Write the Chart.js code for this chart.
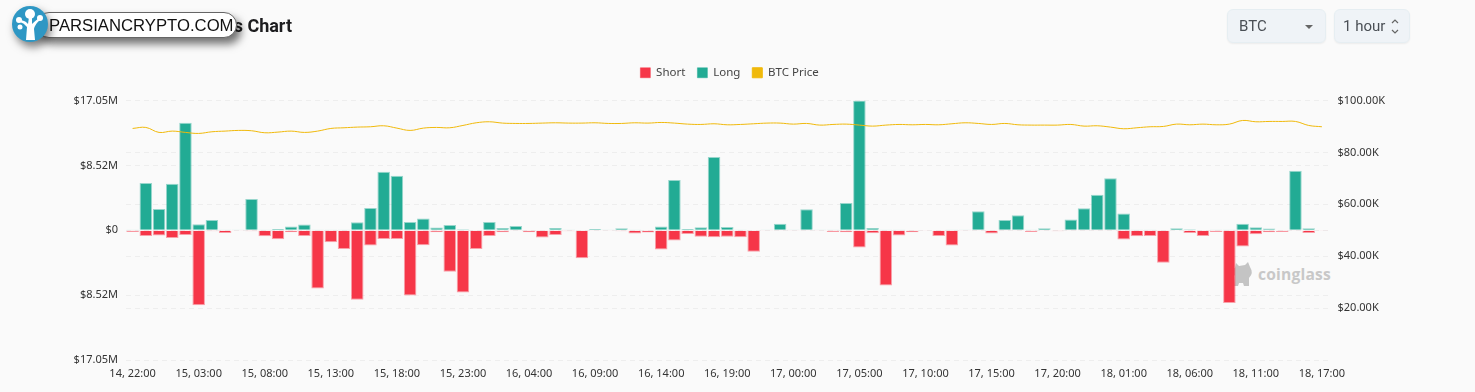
<!DOCTYPE html>
<html>
<head>
<meta charset="utf-8">
<title>Liquidations Chart</title>
<script src="https://cdn.jsdelivr.net/npm/chart.js@4/dist/chart.umd.min.js"></script>
<style>
    html, body { margin: 0; padding: 0; background: #fafafa; width: 1475px; height: 392px; overflow: hidden; }
    #liqChart { position: absolute; left: 0; top: 0; }
    .title { position: absolute; right: 1183px; top: 15px; font: 700 18px Roboto, sans-serif; color: #1d1d1f; white-space: nowrap; }
    .logo-pill { position: absolute; left: 36px; top: 12px; width: 199px; height: 24px; background: #fff; border: 1px solid #666; border-radius: 13px; box-shadow: 4px 6px 8px rgba(0,0,0,.55); }
    .logo-text { position: absolute; left: 49px; top: 16px; font: 400 16.7px "Liberation Sans", sans-serif; color: #111; white-space: nowrap; }
    .logo-icon { position: absolute; left: 12px; top: 5px; filter: drop-shadow(3px 5px 4px rgba(0,0,0,.5)); }
    .select { position: absolute; top: 9px; height: 34px; box-sizing: border-box; background: #eff3f7; border: 1px solid #e6eef2; border-radius: 6px; font: 400 15px/32px Roboto, sans-serif; color: #4a4f55; box-shadow: 0 1px 2px rgba(0,0,0,.06); }
    .select span { position: absolute; left: 11px; }
    .select svg { position: absolute; }
    .watermark { position: absolute; left: 1258px; top: 263px; font: 700 15.6px "Open Sans", sans-serif; color: #c8c8c8; letter-spacing: .2px; }
    .watermark-icon { position: absolute; left: 1230px; top: 261px; }
</style>
</head>
<body>
<svg class="watermark-icon" width="24" height="26" viewBox="0 0 24 26">
    <path d="M1 8 L5 7 L6 2 L9 5 L15 4 L18 1 L20 6 Q24 12 19 17 L19 25 L14 25 L13 22 L9 22 L8 25 L4 25 L5 15 Q2 12 1 8 Z" fill="#c4c4c4"/>
</svg>
<div class="watermark">coinglass</div>

<canvas id="liqChart" width="1475" height="392"></canvas>

<div class="title">Total Liquidations Chart</div>
<div class="logo-pill"></div>
<div class="logo-text">PARSIANCRYPTO.COM</div>
<svg class="logo-icon" width="36" height="38" viewBox="0 0 36 38">
    <circle cx="18" cy="19" r="18" fill="#2e97c4"/>
    <path d="M14 35 L15 22 Q12 18 8 17 L9 15 Q14 16 16 19 L17 12 L20 12 L20 19 Q23 16 27 13 L28 15 Q23 19 22 24 L23 35 Z" fill="#fff"/>
    <circle cx="18" cy="9" r="5" fill="#fff"/>
    <circle cx="7" cy="15" r="3" fill="#fff"/>
    <circle cx="28" cy="13" r="3" fill="#fff"/>
    <circle cx="8" cy="22" r="2.5" fill="#fff"/>
</svg>

<div class="select" style="left:1227px;width:99px"><span>BTC</span>
    <svg style="left:76px;top:14px" width="10" height="6"><path d="M1 1 L9 1 L5 5 Z" fill="#666"/></svg>
</div>
<div class="select" style="left:1334px;width:76px"><span style="left:8px">1 hour</span>
    <svg style="left:55px;top:8px" width="10" height="17" fill="none" stroke="#666" stroke-width="1.2"><path d="M2 5 L5 2 L8 5 M2 12 L5 15 L8 12"/></svg>
</div>

<script>
const categories = [
    '14, 22:00', '14, 23:00', '15, 00:00', '15, 01:00', '15, 02:00', '15, 03:00', '15, 04:00', '15, 05:00', '15, 06:00', '15, 07:00',
    '15, 08:00', '15, 09:00', '15, 10:00', '15, 11:00', '15, 12:00', '15, 13:00', '15, 14:00', '15, 15:00', '15, 16:00', '15, 17:00',
    '15, 18:00', '15, 19:00', '15, 20:00', '15, 21:00', '15, 22:00', '15, 23:00', '16, 00:00', '16, 01:00', '16, 02:00', '16, 03:00',
    '16, 04:00', '16, 05:00', '16, 06:00', '16, 07:00', '16, 08:00', '16, 09:00', '16, 10:00', '16, 11:00', '16, 12:00', '16, 13:00',
    '16, 14:00', '16, 15:00', '16, 16:00', '16, 17:00', '16, 18:00', '16, 19:00', '16, 20:00', '16, 21:00', '16, 22:00', '16, 23:00',
    '17, 00:00', '17, 01:00', '17, 02:00', '17, 03:00', '17, 04:00', '17, 05:00', '17, 06:00', '17, 07:00', '17, 08:00', '17, 09:00',
    '17, 10:00', '17, 11:00', '17, 12:00', '17, 13:00', '17, 14:00', '17, 15:00', '17, 16:00', '17, 17:00', '17, 18:00', '17, 19:00',
    '17, 20:00', '17, 21:00', '17, 22:00', '17, 23:00', '18, 00:00', '18, 01:00', '18, 02:00', '18, 03:00', '18, 04:00', '18, 05:00',
    '18, 06:00', '18, 07:00', '18, 08:00', '18, 09:00', '18, 10:00', '18, 11:00', '18, 12:00', '18, 13:00', '18, 14:00', '18, 15:00',
    '18, 17:00'
];

// $M
const shortValues = [
    -0.22, -0.74, -0.70, -1.01, -0.61, -9.84, -0.13, -0.35, -0.04, -0.13,
    -0.79, -1.18, -0.26, -0.74, -7.65, -1.57, -2.45, -9.14, -2.01, -1.14,
    -1.14, -8.57, -1.97, -0.26, -5.46, -8.17, -2.45, -0.74, -0.26, -0.09,
    -0.26, -0.96, -0.61, -0.13, -3.67, -0.09, -0.04, -0.13, -0.44, -0.31,
    -2.54, -1.36, -0.48, -0.87, -0.92, -0.87, -0.92, -2.84, -0.04, -0.04,
    -0.04, -0.04, -0.09, -0.22, -0.26, -2.27, -0.39, -7.26, -0.70, -0.26,
    -0.09, -0.74, -2.01, -0.04, -0.04, -0.44, -0.04, -0.04, -0.22, -0.04,
    -0.13, -0.04, -0.04, -0.04, -0.04, -1.22, -0.79, -0.74, -4.28, 0,
    -0.35, -0.74, -0.22, -9.57, -2.14, -0.52, -0.26, -0.22, -0.04, -0.35,
    -0.09
];
const longValues = [
    0.09, 6.21, 2.80, 6.12, 14.12, 0.79, 1.36, 0.09, 0.04, 4.11,
    0.04, 0.17, 0.48, 0.74, 0.04, 0.04, 0.09, 1.05, 2.93, 7.69,
    7.17, 1.09, 1.53, 0.35, 0.70, 0.13, 0, 1.09, 0.31, 0.57,
    0, 0, 0.31, 0.04, 0, 0.17, 0.04, 0.26, 0.04, 0,
    0.48, 6.60, 0.17, 0.39, 9.62, 0.44, 0.04, 0, 0.09, 0.87,
    0.04, 2.75, 0.04, 0.09, 3.58, 17.05, 0.31, 0.04, 0.04, 0,
    0, 0, 0.04, 0.09, 2.49, 0, 1.36, 1.97, 0.09, 0.26,
    0, 1.40, 2.89, 4.68, 6.82, 2.19, 0.04, 0.04, 0, 0.26,
    0.13, 0, 0.04, 0.04, 0.87, 0.39, 0.22, 0, 7.83, 0.26,
    0
];
// $K
const priceValues = [
    89.23, 89.62, 87.70, 88.21, 87.70, 87.31, 87.95, 88.21, 88.47, 88.34,
    87.57, 87.82, 88.21, 87.70, 88.21, 89.23, 89.49, 89.75, 89.88, 90.26,
    89.36, 88.47, 89.36, 89.62, 89.49, 90.39, 91.41, 91.80, 91.29, 91.16,
    91.16, 91.29, 91.41, 91.29, 91.29, 91.41, 91.16, 91.16, 91.41, 91.29,
    91.54, 91.29, 90.90, 90.77, 91.03, 90.64, 90.77, 91.03, 91.29, 91.29,
    90.90, 91.16, 90.52, 90.77, 90.90, 90.52, 90.13, 90.52, 90.77, 90.64,
    90.77, 90.64, 91.03, 91.41, 91.16, 90.77, 91.16, 90.64, 90.52, 90.52,
    90.52, 90.77, 90.13, 90.26, 89.75, 89.11, 89.49, 89.88, 90.00, 90.90,
    90.64, 90.90, 90.64, 90.90, 92.31, 91.80, 91.93, 91.93, 91.93, 90.39,
    89.88
];

const leftTicks = { '17.05': '$17.05M', '8.525': '$8.52M', '0': '$0', '-8.525': '$8.52M', '-17.05': '$17.05M' };
const rightTicks = { 100: '$100.00K', 80: '$80.00K', 60: '$60.00K', 40: '$40.00K', 20: '$20.00K' };

const tickFont = { family: '"Noto Sans", sans-serif', size: 11 };
const tickColor = '#333';
const gridOpts = { color: '#eeeeee', lineWidth: 1, drawTicks: false };

// more room under the legend
const legendGap = {
    id: 'legendGap',
    beforeInit(chart) {
        const fit = chart.legend.fit;
        chart.legend.fit = function() {
            fit.bind(this)();
            this.height += 12;
        };
    }
};

new Chart(document.getElementById('liqChart').getContext('2d'), {
    type: 'bar',
    plugins: [legendGap],
    data: {
        labels: categories,
        datasets: [
            {
                label: 'Short',
                data: shortValues,
                yAxisID: 'y',
                backgroundColor: '#f63648',
                borderColor: 'rgba(246,54,72,0.45)',
                borderWidth: 1,
                order: 2
            },
            {
                label: 'Long',
                data: longValues,
                yAxisID: 'y',
                backgroundColor: '#22ab94',
                borderColor: 'rgba(34,171,148,0.45)',
                borderWidth: 1,
                order: 2
            },
            {
                type: 'line',
                label: 'BTC Price',
                data: priceValues,
                yAxisID: 'y1',
                borderColor: '#f0b90b',
                backgroundColor: '#f0b90b',
                borderWidth: 1,
                pointRadius: 0,
                tension: 0.4,
                order: 1
            }
        ]
    },
    options: {
        responsive: false,
        animation: false,
        layout: { padding: { top: 55, right: 16 } },
        datasets: { bar: { barPercentage: 1, categoryPercentage: 0.95 } },
        plugins: {
            tooltip: { enabled: false },
            legend: {
                position: 'top',
                labels: {
                    boxWidth: 10,
                    boxHeight: 10,
                    padding: 12,
                    color: '#444',
                    font: { family: '"Noto Sans", sans-serif', size: 11.5 },
                    sort: (a, b) => a.datasetIndex - b.datasetIndex
                }
            }
        },
        scales: {
            x: {
                stacked: true,
                grid: { display: false, drawTicks: false },
                border: { display: false },
                afterFit: scale => { scale.height = 32; },
                ticks: {
                    autoSkip: false,
                    maxRotation: 0,
                    padding: 7,
                    color: tickColor,
                    font: tickFont,
                    callback: function(value, index) {
                        return index % 5 === 0 ? this.getLabelForValue(value) : null;
                    }
                }
            },
            y: {
                stacked: true,
                position: 'left',
                min: -17.05,
                max: 17.05,
                afterFit: scale => { scale.width = 126; },
                afterBuildTicks: scale => {
                    scale.ticks = Object.keys(leftTicks).map(v => ({ value: parseFloat(v) }));
                },
                grid: gridOpts,
                border: { display: false, dash: [5, 4] },
                ticks: {
                    padding: 8,
                    color: tickColor,
                    font: tickFont,
                    callback: value => leftTicks[String(value)]
                }
            },
            y1: {
                position: 'right',
                min: 0,
                max: 100,
                afterFit: scale => { scale.width = 130.5; },
                afterBuildTicks: scale => {
                    scale.ticks = [100, 80, 60, 40, 20, 0].map(v => ({ value: v }));
                },
                grid: gridOpts,
                border: { display: false, dash: [5, 4] },
                ticks: {
                    padding: 9,
                    color: tickColor,
                    font: tickFont,
                    callback: value => rightTicks[value] || ''
                }
            }
        }
    }
});
</script>
</body>
</html>
